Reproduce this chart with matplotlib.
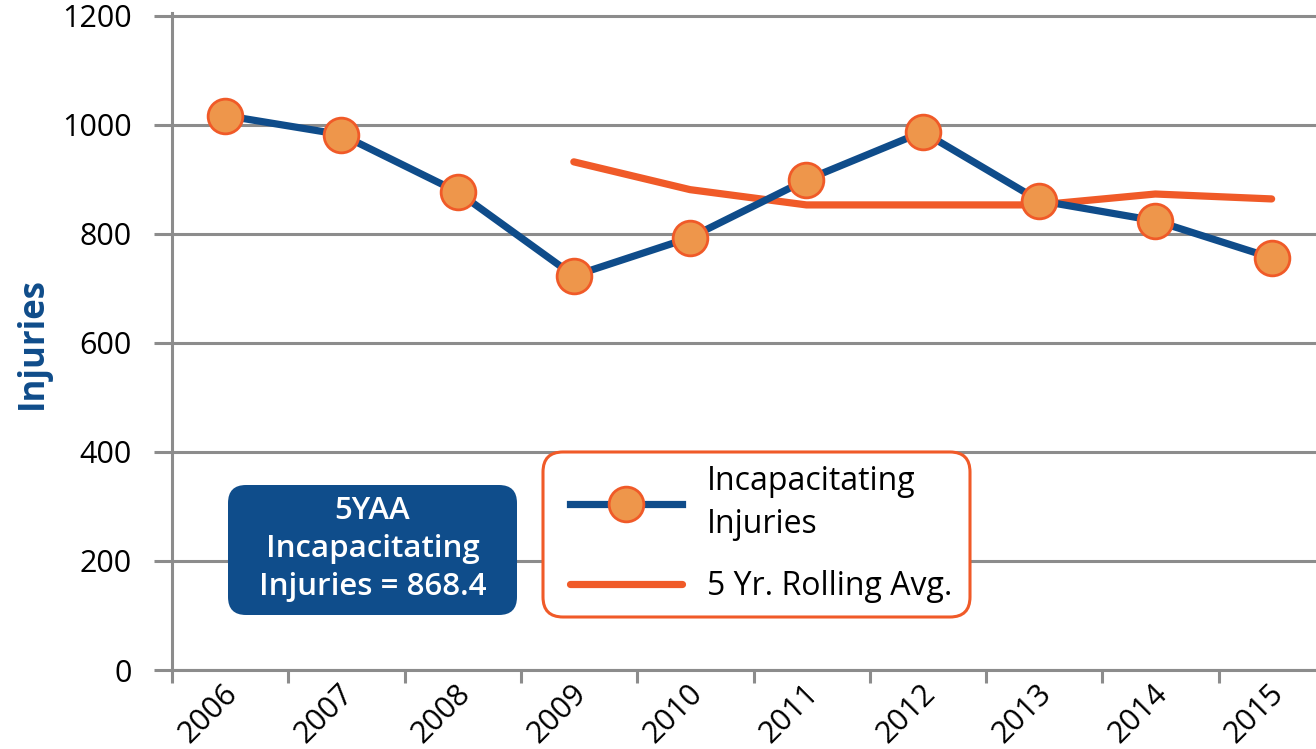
import matplotlib.pyplot as plt
import matplotlib.transforms as mtransforms
from matplotlib.patches import FancyBboxPatch
import numpy as np

plt.rcParams['font.family'] = ['Open Sans', 'DejaVu Sans']

years = ['2006', '2007', '2008', '2009', '2010', '2011', '2012', '2013', '2014', '2015']
injuries = [1017, 982, 877, 723, 793, 899, 987, 861, 824, 756]
#rolling average starts in 2009
avg_years = ['2009', '2010', '2011', '2012', '2013', '2014', '2015']
rolling_avg = [932, 881, 853, 853, 853, 873, 864]
yticks = [0, 200, 400, 600, 800, 1000, 1200]

blue = '#0F4C8A'
orange = '#F05A28'
marker_face = '#EE964B'
grid_gray = '#8C8C8C'

fig = plt.figure(figsize=(13.16, 7.49), dpi=100)
# axes runs past the right edge of the picture, like the cropped original
ax = fig.add_axes([172/1316, 79/749, 1163/1316, 657/749])

x = np.arange(len(years))
x_avg = np.array([years.index(y) for y in avg_years])

ax.plot(x_avg, rolling_avg, color=orange, lw=5.2, solid_capstyle='round',
        zorder=3, label='5 Yr. Rolling Avg.')
ax.plot(x, injuries, color=blue, lw=5.2, marker='o', markersize=25,
        markerfacecolor=marker_face, markeredgecolor=orange, markeredgewidth=2,
        zorder=4, label='Incapacitating\nInjuries')

ax.set_xlim(-0.455, len(years) - 0.455)
ax.set_ylim(0, 1205)
ax.set_yticks(yticks)
ax.set_yticklabels([str(t) for t in yticks], fontsize=22)
ax.yaxis.grid(True, color=grid_gray, lw=2.2)
ax.set_axisbelow(True)
ax.tick_params(axis='y', length=13, width=2.2, color=grid_gray, pad=16)

ax.set_xticks(x)
ax.set_xticklabels(years, fontsize=22, rotation=45, ha='right', va='center',
                   rotation_mode='anchor')
ax.set_xticks(np.arange(-0.455, len(years), 1), minor=True)
ax.tick_params(axis='x', which='major', length=0, pad=14)
ax.tick_params(axis='x', which='minor', length=9, width=2.2, color=grid_gray)
#nudge year labels a bit to the right
shift = mtransforms.ScaledTranslation(8/100, 0, fig.dpi_scale_trans)
for lab in ax.get_xticklabels():
    lab.set_transform(lab.get_transform() + shift)

for side in ('top', 'right'):
    ax.spines[side].set_visible(False)
for side in ('left', 'bottom'):
    ax.spines[side].set_color(grid_gray)
    ax.spines[side].set_linewidth(2.2)
ax.spines['left'].set_bounds(0, 1205)

fig.text(33/1316, 1 - 343/749, 'Injuries', rotation=90, color=blue,
         fontsize=25, fontweight='bold', ha='center', va='center')

#5 year average box, in pixel coordinates
box = FancyBboxPatch((228, 749 - 615), 289, 130,
                     boxstyle='round,pad=0,rounding_size=18',
                     transform=mtransforms.IdentityTransform(),
                     facecolor='#0F4D8B', edgecolor='none', zorder=5)
fig.patches.append(box)
fig.text((228 + 289/2)/1316, 1 - 549/749,
         '5YAA\nIncapacitating\nInjuries = 868.4', color='white',
         fontsize=22.5, fontweight='semibold', ha='center', va='center',
         linespacing=1.35, zorder=6)

#legend frame drawn by hand so its size matches the original
frame = FancyBboxPatch((543, 749 - 617), 427, 165,
                       boxstyle='round,pad=0,rounding_size=20',
                       transform=mtransforms.IdentityTransform(),
                       facecolor='white', edgecolor=orange, lw=2.2,
                       zorder=5, clip_on=False)
ax.add_artist(frame)

#legend with the injuries entry first
ax_lines = ax.get_lines()
leg = ax.legend([ax_lines[1], ax_lines[0]],
                [ax_lines[1].get_label(), ax_lines[0].get_label()],
                loc='upper left', bbox_to_anchor=(570/1316, 1 - 465/749),
                bbox_transform=fig.transFigure, borderaxespad=0,
                fontsize=23, handlelength=3.5, handletextpad=0.78,
                borderpad=0, labelspacing=0.9, numpoints=1, frameon=False)
for t in leg.get_texts():
    t.set_linespacing(1.4)
leg.set_zorder(6)

fig.savefig('out.png', dpi=100)
